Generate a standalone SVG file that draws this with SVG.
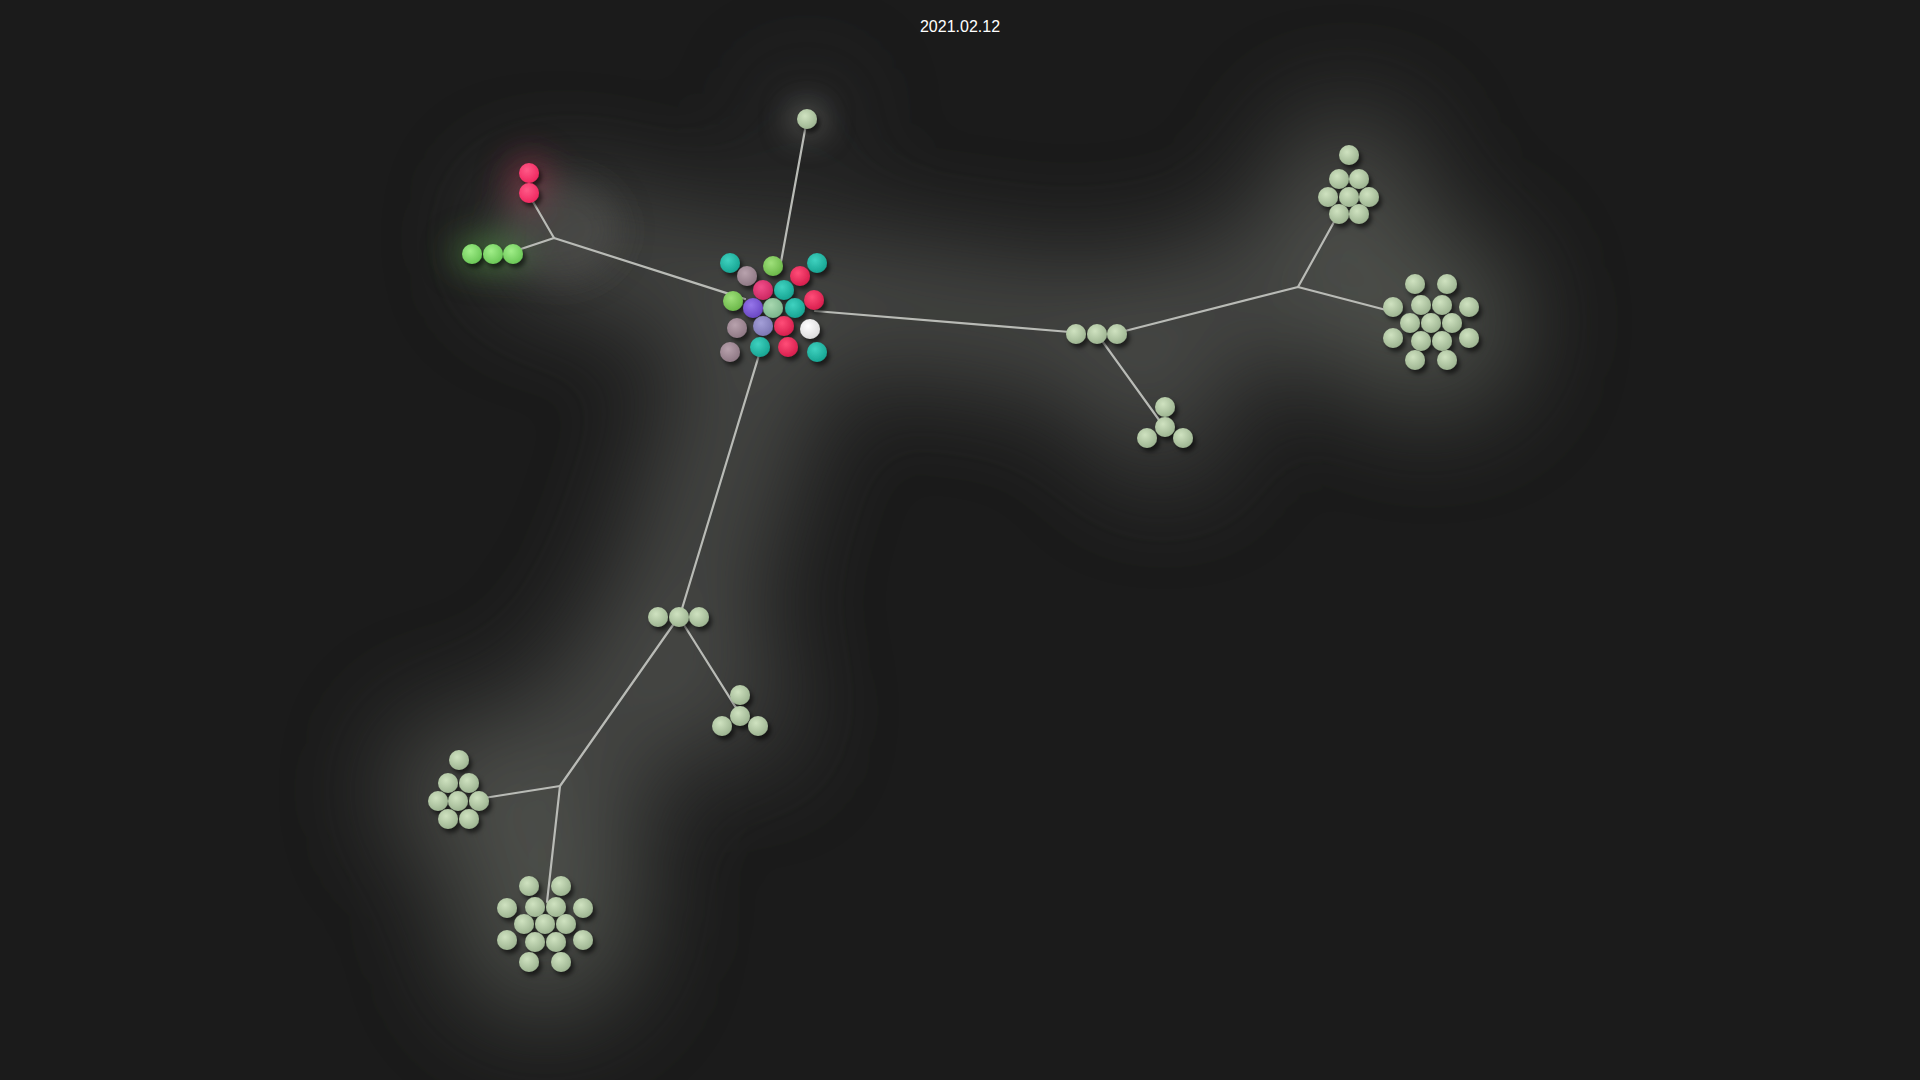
<svg xmlns="http://www.w3.org/2000/svg" width="1920" height="1080" viewBox="0 0 1920 1080">
<defs>
<style>
.e{stroke:#b9bbb6;stroke-width:2.2;fill:none;stroke-linecap:round}
.b{filter:url(#sh)}
.sg{fill:url(#gSage)}
.t{font-family:"Liberation Sans",Arial,sans-serif;font-size:16px;fill:#ffffff}
</style>
<filter id="blur" x="-50%" y="-50%" width="200%" height="200%"><feGaussianBlur stdDeviation="55"/></filter>
<filter id="blurS" x="-100%" y="-100%" width="300%" height="300%"><feGaussianBlur stdDeviation="16"/></filter>
<filter id="sh" x="-60%" y="-60%" width="220%" height="220%"><feDropShadow dx="3" dy="4" stdDeviation="2" flood-color="#000" flood-opacity="0.55"/></filter>
<radialGradient id="gSage" cx="40%" cy="35%" r="65%"><stop offset="0" stop-color="#cfe2c0"/><stop offset="1" stop-color="#9eb592"/></radialGradient>
<radialGradient id="gTeal" cx="40%" cy="35%" r="65%"><stop offset="0" stop-color="#3fd2c0"/><stop offset="1" stop-color="#18a593"/></radialGradient>
<radialGradient id="gGreen" cx="40%" cy="35%" r="65%"><stop offset="0" stop-color="#9fe07a"/><stop offset="1" stop-color="#6cb84a"/></radialGradient>
<radialGradient id="gBGreen" cx="40%" cy="35%" r="65%"><stop offset="0" stop-color="#a0ee88"/><stop offset="1" stop-color="#6cc858"/></radialGradient>
<radialGradient id="gMauve" cx="40%" cy="35%" r="65%"><stop offset="0" stop-color="#b8a2ad"/><stop offset="1" stop-color="#8f7985"/></radialGradient>
<radialGradient id="gPink" cx="40%" cy="35%" r="65%"><stop offset="0" stop-color="#f24e8a"/><stop offset="1" stop-color="#cc2862"/></radialGradient>
<radialGradient id="gRed" cx="40%" cy="35%" r="65%"><stop offset="0" stop-color="#ff4d78"/><stop offset="1" stop-color="#d81f4e"/></radialGradient>
<radialGradient id="gBRed" cx="40%" cy="35%" r="65%"><stop offset="0" stop-color="#ff5a88"/><stop offset="1" stop-color="#f02860"/></radialGradient>
<radialGradient id="gPurple" cx="40%" cy="35%" r="65%"><stop offset="0" stop-color="#9676ea"/><stop offset="1" stop-color="#6a48c4"/></radialGradient>
<radialGradient id="gSeaf" cx="40%" cy="35%" r="65%"><stop offset="0" stop-color="#a8d8b0"/><stop offset="1" stop-color="#7cb58c"/></radialGradient>
<radialGradient id="gLav" cx="40%" cy="35%" r="65%"><stop offset="0" stop-color="#a49fd8"/><stop offset="1" stop-color="#7d78b4"/></radialGradient>
<radialGradient id="gWhite" cx="40%" cy="35%" r="65%"><stop offset="0" stop-color="#ffffff"/><stop offset="1" stop-color="#dcdcdc"/></radialGradient>
</defs>
<rect width="1920" height="1080" fill="#1b1b1b"/>
<g id="glow" filter="url(#blur)" opacity="0.8">
<g stroke="#555752" stroke-linecap="round" stroke-linejoin="round" fill="none">
<path d="M780,290 L1090,334 L1298,287 L1348,185" stroke-width="120"/>
<path d="M1298,287 L1430,322" stroke-width="150"/>
<path d="M1097,334 L1165,425" stroke-width="110"/>
<path d="M770,320 L680,610 L560,786" stroke-width="130"/>
<path d="M680,617 L740,712" stroke-width="100"/>
<path d="M560,786 L545,925" stroke-width="170"/>
<path d="M560,786 L460,790" stroke-width="140"/>
<path d="M545,238 L770,290" stroke-width="110"/>
</g>
<circle cx="1430" cy="322" r="90" fill="#5c5e59"/>
<circle cx="1348" cy="185" r="70" fill="#5a5c57"/>
<circle cx="545" cy="925" r="90" fill="#5c5e59"/>
<circle cx="459" cy="790" r="70" fill="#5a5c57"/>
<circle cx="807" cy="119" r="30" fill="#4c4e50"/>
</g>
<g id="glow-color" filter="url(#blurS)">
<ellipse cx="529" cy="185" rx="22" ry="30" fill="#a8334f" opacity="0.5"/>
<ellipse cx="493" cy="254" rx="42" ry="18" fill="#56a048" opacity="0.5"/>
<ellipse cx="560" cy="230" rx="60" ry="50" fill="#555553" opacity="0.5"/>
<circle cx="807" cy="119" r="16" fill="#9a9c96" opacity="0.55"/>
</g>
<g id="connectors">
<line class="e" x1="807" y1="119" x2="781" y2="262"/>
<line class="e" x1="554" y1="238" x2="745" y2="299"/>
<line class="e" x1="554" y1="238" x2="532" y2="200"/>
<line class="e" x1="554" y1="238" x2="518" y2="250"/>
<line class="e" x1="815" y1="311" x2="1070" y2="332"/>
<line class="e" x1="1117" y1="333" x2="1298" y2="287"/>
<line class="e" x1="1298" y1="287" x2="1334" y2="222"/>
<line class="e" x1="1298" y1="287" x2="1390" y2="311"/>
<line class="e" x1="1100" y1="338" x2="1162" y2="424"/>
<line class="e" x1="759" y1="355" x2="681" y2="612"/>
<line class="e" x1="673" y1="625" x2="560" y2="786"/>
<line class="e" x1="684" y1="625" x2="740" y2="714"/>
<line class="e" x1="560" y1="786" x2="484" y2="798"/>
<line class="e" x1="560" y1="786" x2="547" y2="902"/>
</g>
<g id="node-center" class="b">
<circle cx="730" cy="263" r="10" fill="url(#gTeal)"/>
<circle cx="773" cy="266" r="10" fill="url(#gGreen)"/>
<circle cx="817" cy="263" r="10" fill="url(#gTeal)"/>
<circle cx="747" cy="276" r="10" fill="url(#gMauve)"/>
<circle cx="800" cy="276" r="10" fill="url(#gRed)"/>
<circle cx="763" cy="290" r="10" fill="url(#gPink)"/>
<circle cx="784" cy="290" r="10" fill="url(#gTeal)"/>
<circle cx="733" cy="301" r="10" fill="url(#gGreen)"/>
<circle cx="814" cy="300" r="10" fill="url(#gRed)"/>
<circle cx="753" cy="308" r="10" fill="url(#gPurple)"/>
<circle cx="773" cy="308" r="10" fill="url(#gSeaf)"/>
<circle cx="795" cy="308" r="10" fill="url(#gTeal)"/>
<circle cx="737" cy="328" r="10" fill="url(#gMauve)"/>
<circle cx="763" cy="326" r="10" fill="url(#gLav)"/>
<circle cx="784" cy="326" r="10" fill="url(#gRed)"/>
<circle cx="810" cy="329" r="10" fill="url(#gWhite)"/>
<circle cx="730" cy="352" r="10" fill="url(#gMauve)"/>
<circle cx="760" cy="347" r="10" fill="url(#gTeal)"/>
<circle cx="788" cy="347" r="10" fill="url(#gRed)"/>
<circle cx="817" cy="352" r="10" fill="url(#gTeal)"/>
</g>
<g id="node-top" class="b"><circle class="sg" cx="807" cy="119" r="10"/></g>
<g id="node-red" class="b">
<circle cx="529" cy="173" r="10" fill="url(#gBRed)"/>
<circle cx="529" cy="193" r="10" fill="url(#gBRed)"/>
</g>
<g id="node-green" class="b">
<circle cx="472" cy="254" r="10" fill="url(#gBGreen)"/>
<circle cx="493" cy="254" r="10" fill="url(#gBGreen)"/>
<circle cx="513" cy="254" r="10" fill="url(#gBGreen)"/>
</g>
<g id="node-right-hub" class="b">
<circle class="sg" cx="1076" cy="334" r="10"/>
<circle class="sg" cx="1097" cy="334" r="10"/>
<circle class="sg" cx="1117" cy="334" r="10"/>
</g>
<g id="node-right-tri" class="b">
<circle class="sg" cx="1165" cy="407" r="10"/>
<circle class="sg" cx="1165" cy="427" r="10"/>
<circle class="sg" cx="1147" cy="438" r="10"/>
<circle class="sg" cx="1183" cy="438" r="10"/>
</g>
<g id="node-right-top" class="b">
<circle class="sg" cx="1349" cy="155" r="10"/>
<circle class="sg" cx="1339" cy="179" r="10"/>
<circle class="sg" cx="1359" cy="179" r="10"/>
<circle class="sg" cx="1328" cy="197" r="10"/>
<circle class="sg" cx="1349" cy="197" r="10"/>
<circle class="sg" cx="1369" cy="197" r="10"/>
<circle class="sg" cx="1339" cy="214" r="10"/>
<circle class="sg" cx="1359" cy="214" r="10"/>
</g>
<g id="node-right-big" class="b">
<circle class="sg" cx="1415" cy="284" r="10"/>
<circle class="sg" cx="1447" cy="284" r="10"/>
<circle class="sg" cx="1393" cy="307" r="10"/>
<circle class="sg" cx="1421" cy="305" r="10"/>
<circle class="sg" cx="1442" cy="305" r="10"/>
<circle class="sg" cx="1469" cy="307" r="10"/>
<circle class="sg" cx="1410" cy="323" r="10"/>
<circle class="sg" cx="1431" cy="323" r="10"/>
<circle class="sg" cx="1452" cy="323" r="10"/>
<circle class="sg" cx="1393" cy="338" r="10"/>
<circle class="sg" cx="1421" cy="341" r="10"/>
<circle class="sg" cx="1442" cy="341" r="10"/>
<circle class="sg" cx="1469" cy="338" r="10"/>
<circle class="sg" cx="1415" cy="360" r="10"/>
<circle class="sg" cx="1447" cy="360" r="10"/>
</g>
<g id="node-bottom-hub" class="b">
<circle class="sg" cx="658" cy="617" r="10"/>
<circle class="sg" cx="679" cy="617" r="10"/>
<circle class="sg" cx="699" cy="617" r="10"/>
</g>
<g id="node-bottom-tri" class="b">
<circle class="sg" cx="740" cy="695" r="10"/>
<circle class="sg" cx="740" cy="716" r="10"/>
<circle class="sg" cx="722" cy="726" r="10"/>
<circle class="sg" cx="758" cy="726" r="10"/>
</g>
<g id="node-left" class="b">
<circle class="sg" cx="459" cy="760" r="10"/>
<circle class="sg" cx="448" cy="783" r="10"/>
<circle class="sg" cx="469" cy="783" r="10"/>
<circle class="sg" cx="438" cy="801" r="10"/>
<circle class="sg" cx="458" cy="801" r="10"/>
<circle class="sg" cx="479" cy="801" r="10"/>
<circle class="sg" cx="448" cy="819" r="10"/>
<circle class="sg" cx="469" cy="819" r="10"/>
</g>
<g id="node-bottom-big" class="b">
<circle class="sg" cx="529" cy="886" r="10"/>
<circle class="sg" cx="561" cy="886" r="10"/>
<circle class="sg" cx="507" cy="908" r="10"/>
<circle class="sg" cx="535" cy="907" r="10"/>
<circle class="sg" cx="556" cy="907" r="10"/>
<circle class="sg" cx="583" cy="908" r="10"/>
<circle class="sg" cx="524" cy="924" r="10"/>
<circle class="sg" cx="545" cy="924" r="10"/>
<circle class="sg" cx="566" cy="924" r="10"/>
<circle class="sg" cx="507" cy="940" r="10"/>
<circle class="sg" cx="535" cy="942" r="10"/>
<circle class="sg" cx="556" cy="942" r="10"/>
<circle class="sg" cx="583" cy="940" r="10"/>
<circle class="sg" cx="529" cy="962" r="10"/>
<circle class="sg" cx="561" cy="962" r="10"/>
</g>
<text class="t" x="960" y="32" text-anchor="middle">2021.02.12</text>
</svg>
